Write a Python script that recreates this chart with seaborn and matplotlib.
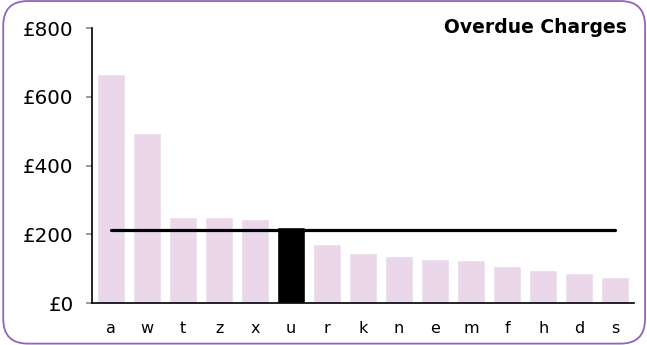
import matplotlib
matplotlib.use("Agg")
import matplotlib.pyplot as plt
from matplotlib.patches import FancyBboxPatch
from matplotlib.ticker import FuncFormatter
import seaborn as sns
import pandas as pd

# Overdue charges per account, sorted descending
accounts = ["a", "w", "t", "z", "x", "u", "r", "k", "n", "e", "m", "f", "h", "d", "s"]
charges = [667, 495, 250, 250, 244, 221, 172, 145, 138, 128, 126, 107, 96, 87, 76]
highlight = "u"
title = "Overdue Charges"
y_ticks = [0, 200, 400, 600, 800]

BAR = "#ead8ea"
HIGHLIGHT = "#000000"
BORDER = "#9262c0"

sns.set_theme(style="white")
plt.rcParams["font.family"] = ["DejaVu Sans"]

df = pd.DataFrame({"account": accounts, "charge": charges})
palette = {a: (HIGHLIGHT if a == highlight else BAR) for a in accounts}

fig = plt.figure(figsize=(6.47, 3.45), dpi=100)
ax = fig.add_axes([0.1427, 0.1217, 0.837, 0.797])

sns.barplot(data=df, x="account", y="charge", hue="account", palette=palette,
            order=accounts, hue_order=accounts, width=0.79, saturation=1,
            legend=False, ax=ax)

# average charge across all accounts
mean_charge = sum(charges) / len(charges)
ax.plot([0, len(accounts) - 1], [mean_charge, mean_charge], color="black", lw=2.3)

ax.set_xlim(-0.52, len(accounts) - 0.48)
ax.set_ylim(0, 800)
ax.set_yticks(y_ticks)
ax.yaxis.set_major_formatter(FuncFormatter(lambda v, _: f"£{v:.0f}"))
ax.set_xlabel("")
ax.set_ylabel("")

for side in ("top", "right"):
    ax.spines[side].set_visible(False)
for side in ("left", "bottom"):
    ax.spines[side].set_color("black")
    ax.spines[side].set_linewidth(1.2)

ax.tick_params(axis="y", which="major", left=True, length=4.5, width=1.2,
               color="#888888", labelsize=14.3, labelcolor="black", pad=9)
ax.tick_params(axis="x", bottom=False, labelsize=11.5, labelcolor="black", pad=7)

fig.text(0.969, 0.919, title, ha="right", va="center", fontsize=13.5,
         fontweight="bold", color="black")

# rounded frame around the whole figure
frame = FancyBboxPatch((0.005, 0.004), 0.992, 0.993,
                       boxstyle="round,pad=0,rounding_size=0.038",
                       transform=fig.transFigure, fill=False,
                       edgecolor=BORDER, linewidth=1.3, mutation_aspect=647 / 345)
fig.patches.append(frame)

fig.savefig("out.png", dpi=100)
